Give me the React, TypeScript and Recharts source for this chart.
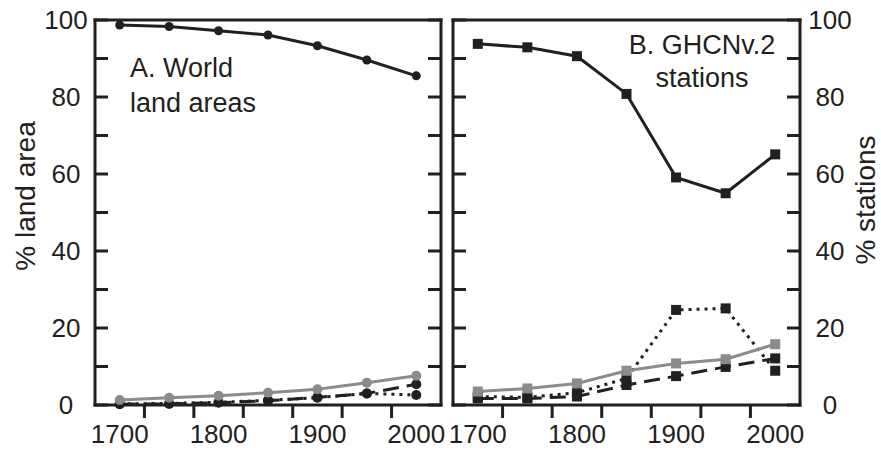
import React from 'react';
import { LineChart, Line, XAxis, YAxis } from 'recharts';

const years = [1700, 1750, 1800, 1850, 1900, 1950, 2000];

// A. World land areas (% land area)
const landSolid = [98.7, 98.3, 97.2, 96.1, 93.3, 89.6, 85.5];
const landGray = [1.3, 1.9, 2.4, 3.2, 4.1, 5.8, 7.6];
const landDashed = [0.2, 0.3, 0.6, 1.1, 2.0, 3.0, 5.4];
const landDotted = [0.3, 0.4, 0.7, 1.2, 1.9, 3.0, 2.6];

// B. GHCNv.2 stations (% stations)
const stationSolid = [93.8, 92.9, 90.6, 80.8, 59.1, 55.0, 65.1];
const stationGray = [3.5, 4.3, 5.6, 8.9, 10.8, 11.9, 15.8];
const stationDotted = [2.2, 2.0, 3.2, 6.9, 24.7, 25.1, 8.9];
const stationDashed = [1.7, 1.7, 2.2, 5.2, 7.5, 9.9, 12.1];

const xLabels = [1700, 1800, 1900, 2000];
const xMinor = [1725, 1775, 1825, 1875, 1925, 1975];
const yTicks = [0, 10, 20, 30, 40, 50, 60, 70, 80, 90, 100];

const INK = '#231f20';
const GRAY = '#8b8b8b';
const FONT = '"Liberation Sans", Arial, sans-serif';

const landData = years.map((year, i) => ({
  year,
  solid: landSolid[i],
  gray: landGray[i],
  dashed: landDashed[i],
  dotted: landDotted[i],
}));

const stationData = years.map((year, i) => ({
  year,
  solid: stationSolid[i],
  gray: stationGray[i],
  dotted: stationDotted[i],
  dashed: stationDashed[i],
}));

const xTicks = [...xLabels, ...xMinor].sort((a, b) => a - b);

const XTick = (props: any) => {
  const { x, y, payload } = props;
  if (xLabels.includes(payload.value)) {
    return (
      <text x={x} y={y + 38} textAnchor="middle" fontSize={26} fontFamily={FONT} fill={INK}>
        {payload.value}
      </text>
    );
  }
  return <line x1={x} y1={y} x2={x} y2={y + 13} stroke={INK} strokeWidth={3} />;
};

// inward tick; labelDx set when that side carries numbers
const makeYTick = (dir: number, labelDx: number | null) => (props: any) => {
  const { x, y, payload } = props;
  return (
    <g>
      <line x1={x} y1={y} x2={x + dir * 13} y2={y} stroke={INK} strokeWidth={3} />
      {labelDx !== null && payload.value % 20 === 0 && (
        <text x={x + labelDx} y={y + 9} textAnchor="middle" fontSize={26} fontFamily={FONT} fill={INK}>
          {payload.value}
        </text>
      )}
    </g>
  );
};

const squareDot = (color: string) => (props: any) => (
  <rect key={`${color}-${props.index}`} x={props.cx - 5} y={props.cy - 5} width={10} height={10} fill={color} />
);

const frame = { stroke: INK, strokeWidth: 3, strokeLinecap: 'square' as const };

// all four sides are real axes on the same scale; the series are spread over them so each one gets drawn
const Panel = ({ data, leftW, rightW, width, labelsRight, squares }: any) => {
  const dotFor = (color: string, r: number) =>
    squares ? squareDot(color) : { r, fill: color, stroke: color, strokeWidth: 0 };
  return (
    <LineChart width={width} height={451} data={data} margin={{ top: 19, right: 0, bottom: 0, left: 0 }}>
      <XAxis
        xAxisId="bottom"
        dataKey="year"
        type="number"
        domain={[1675, 2025]}
        ticks={xTicks}
        interval={0}
        tickSize={0}
        tickMargin={0}
        height={46}
        axisLine={frame}
        tickLine={false}
        tick={<XTick />}
      />
      <XAxis
        xAxisId="top"
        dataKey="year"
        type="number"
        domain={[1675, 2025]}
        orientation="top"
        height={1}
        axisLine={frame}
        tick={false}
        tickLine={false}
      />
      <YAxis
        yAxisId="left"
        domain={[0, 100]}
        ticks={yTicks}
        interval={0}
        width={leftW}
        tickSize={0}
        tickMargin={0}
        axisLine={frame}
        tickLine={false}
        tick={makeYTick(1, labelsRight ? null : -29)}
      />
      <YAxis
        yAxisId="right"
        orientation="right"
        domain={[0, 100]}
        ticks={yTicks}
        interval={0}
        width={rightW}
        tickSize={0}
        tickMargin={0}
        axisLine={frame}
        tickLine={false}
        tick={makeYTick(-1, labelsRight ? 30 : null)}
      />
      <Line xAxisId="bottom" yAxisId="left" dataKey="solid" stroke={INK} strokeWidth={3} dot={dotFor(INK, 4.5)} isAnimationActive={false} />
      <Line xAxisId="top" yAxisId="right" dataKey="dotted" stroke={INK} strokeWidth={3} strokeDasharray="3 5" dot={dotFor(INK, 5)} isAnimationActive={false} />
      <Line xAxisId="bottom" yAxisId="right" dataKey="dashed" stroke={INK} strokeWidth={3} strokeDasharray="16 8" dot={dotFor(INK, 5)} isAnimationActive={false} />
      <Line xAxisId="top" yAxisId="left" dataKey="gray" stroke={GRAY} strokeWidth={3} dot={dotFor(GRAY, 5)} isAnimationActive={false} />
    </LineChart>
  );
};

export default function App() {
  return (
    <div style={{ position: 'absolute', left: 0, top: 0, width: 881, height: 451, background: '#fff' }}>
      <div style={{ position: 'absolute', left: 0, top: 0 }}>
        <Panel data={landData} width={447} leftW={95} rightW={6} labelsRight={false} squares={false} />
      </div>
      <div style={{ position: 'absolute', left: 447, top: 0 }}>
        <Panel data={stationData} width={434} leftW={6} rightW={81} labelsRight squares />
      </div>
      <svg width={881} height={451} style={{ position: 'absolute', left: 0, top: 0, pointerEvents: 'none' }}>
        <g fontFamily={FONT} fill={INK}>
          <text x={130} y={77} fontSize={27}>A. World</text>
          <text x={130} y={112} fontSize={27}>land areas</text>
          <text x={702} y={54} fontSize={27} textAnchor="middle">B. GHCNv.2</text>
          <text x={702} y={87} fontSize={27} textAnchor="middle">stations</text>
          <text transform="translate(35, 196) rotate(-90)" textAnchor="middle" fontSize={28}>% land area</text>
          <text transform="translate(875, 200) rotate(-90)" textAnchor="middle" fontSize={28}>% stations</text>
        </g>
      </svg>
    </div>
  );
}
